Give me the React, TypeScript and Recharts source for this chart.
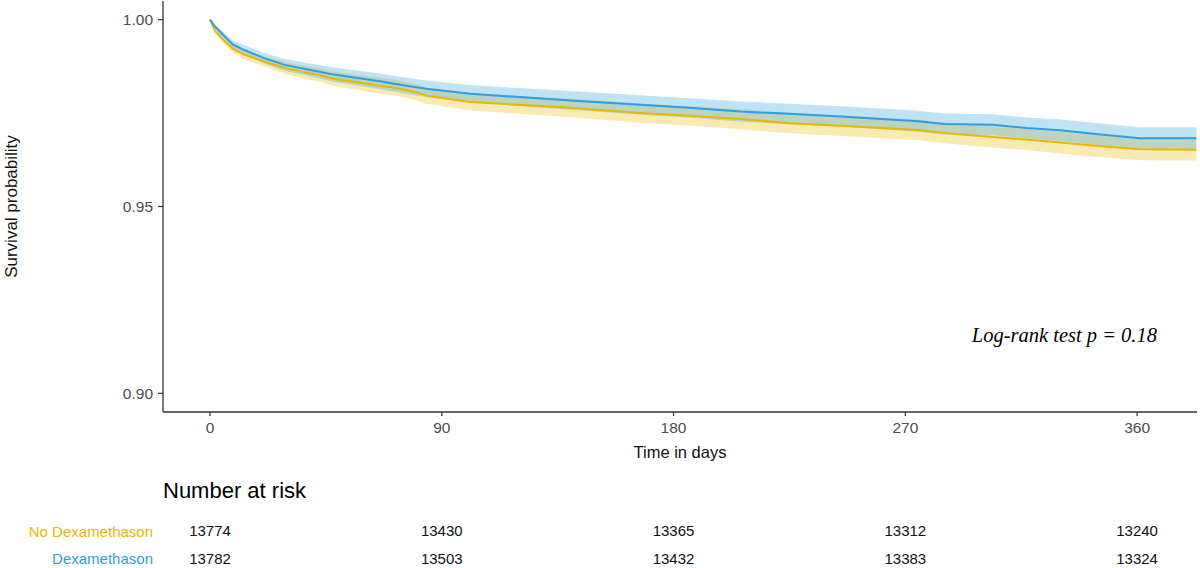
import React from 'react';
import {
  ComposedChart,
  ScatterChart,
  Area,
  Line,
  Scatter,
  XAxis,
  YAxis,
  LabelList,
  Label,
} from 'recharts';

// ---- Data ----
const days = [0, 2, 6, 9, 13, 21, 29, 37, 43, 48, 66, 72, 80, 84, 101, 120, 140, 167, 186, 206, 225, 245, 275, 285, 304, 317, 330, 343, 361, 383];

const dexSurv = [1.0, 0.9981, 0.9953, 0.9933, 0.992, 0.9897, 0.9879, 0.9868, 0.986, 0.9853, 0.9835, 0.9828, 0.9819, 0.9815, 0.9802, 0.9793, 0.9784, 0.9772, 0.9764, 0.9754, 0.9748, 0.9741, 0.9728, 0.9721, 0.9719, 0.971, 0.9704, 0.9695, 0.9683, 0.9683];
const dexLower = [1.0, 0.9976, 0.9944, 0.9922, 0.9908, 0.9883, 0.9863, 0.9851, 0.9842, 0.9834, 0.9814, 0.9807, 0.9797, 0.9793, 0.9779, 0.9769, 0.9759, 0.9746, 0.9738, 0.9727, 0.9721, 0.9714, 0.97, 0.9693, 0.9691, 0.9682, 0.9675, 0.9666, 0.9654, 0.9654];
const dexUpper = [1.0, 0.9986, 0.9962, 0.9944, 0.9932, 0.9911, 0.9895, 0.9885, 0.9878, 0.9872, 0.9856, 0.9849, 0.9841, 0.9837, 0.9825, 0.9817, 0.9809, 0.9798, 0.979, 0.9781, 0.9775, 0.9768, 0.9756, 0.9749, 0.9747, 0.9738, 0.9733, 0.9724, 0.9712, 0.9712];

const noDexSurv = [1.0, 0.9969, 0.994, 0.9922, 0.9907, 0.9888, 0.9871, 0.9859, 0.9851, 0.9842, 0.9823, 0.9818, 0.9806, 0.9797, 0.978, 0.9772, 0.9764, 0.975, 0.9743, 0.9734, 0.9723, 0.9716, 0.9705, 0.9697, 0.9686, 0.9679, 0.9671, 0.9663, 0.9653, 0.9652];
const noDexLower = [1.0, 0.9964, 0.9931, 0.9911, 0.9895, 0.9874, 0.9855, 0.9842, 0.9833, 0.9823, 0.9802, 0.9797, 0.9784, 0.9775, 0.9757, 0.9748, 0.9739, 0.9724, 0.9717, 0.9707, 0.9696, 0.9689, 0.9677, 0.9669, 0.9658, 0.9651, 0.9642, 0.9634, 0.9624, 0.9623];
const noDexUpper = [1.0, 0.9974, 0.9949, 0.9933, 0.9919, 0.9902, 0.9887, 0.9876, 0.9869, 0.9861, 0.9844, 0.9839, 0.9828, 0.9819, 0.9803, 0.9796, 0.9789, 0.9776, 0.9769, 0.9761, 0.975, 0.9743, 0.9733, 0.9725, 0.9714, 0.9707, 0.97, 0.9692, 0.9682, 0.9681];

const xTicks = [0, 90, 180, 270, 360];
const yTicks = [0.9, 0.95, 1.0];
const xDomain = [-18.25, 383.25];
const yDomain = [0.895, 1.005];

const groups = ['No Dexamethason', 'Dexamethason'];
const riskDays = [0, 90, 180, 270, 360];
const riskNoDex = [13774, 13430, 13365, 13312, 13240];
const riskDex = [13782, 13503, 13432, 13383, 13324];

const GOLD = '#E7B800';
const BLUE = '#2E9FDF';
const SANS = '"Liberation Sans", Arial, Helvetica, sans-serif';

const survData = days.map((d, i) => ({
  day: d,
  dex: dexSurv[i],
  noDex: noDexSurv[i],
  dexBand: [dexLower[i], dexUpper[i]],
  noDexBand: [noDexLower[i], noDexUpper[i]],
}));

const riskNoDexData = riskDays.map((d, i) => ({ day: d, group: groups[0], n: riskNoDex[i] }));
const riskDexData = riskDays.map((d, i) => ({ day: d, group: groups[1], n: riskDex[i] }));

const groupColor = (g: string) => (g === groups[0] ? GOLD : BLUE);

const RiskTick = (props: any) => {
  const { x, y, payload } = props;
  return (
    <text x={x} y={y} textAnchor="end" dominantBaseline="central" fontSize={15} fontFamily={SANS} fill={groupColor(payload.value)}>
      {payload.value}
    </text>
  );
};

const YTitle = (props: any) => {
  const vb = props.viewBox || { x: 0, y: 0, width: 0, height: 0 };
  const cx = vb.x + 11;
  const cy = vb.y + vb.height / 2;
  return (
    <text x={cx} y={cy} transform={`rotate(-90 ${cx} ${cy})`} textAnchor="middle" dominantBaseline="central" fontSize={17} fontFamily={SANS} fill="#111">
      Survival probability
    </text>
  );
};

export default function App() {
  return (
    <div style={{ position: 'absolute', left: 0, top: 0, width: 1200, height: 568, overflow: 'hidden', background: '#fff' }}>
      <div style={{ position: 'absolute', left: 0, top: 0 }}>
        <ComposedChart width={1200} height={470} data={survData} margin={{ top: 1, right: 3, bottom: 0, left: 0 }}>
          <XAxis
            dataKey="day"
            type="number"
            domain={xDomain}
            ticks={xTicks}
            allowDataOverflow
            height={58}
            tickSize={4}
            tickMargin={6}
            axisLine={{ stroke: '#333', strokeWidth: 1.3 }}
            tickLine={{ stroke: '#333', strokeWidth: 1.2 }}
            tick={{ fill: '#4D4D4D', fontSize: 15.5, fontFamily: SANS }}
          >
            <Label value="Time in days" position="insideBottom" offset={12} fontSize={16.5} fontFamily={SANS} fill="#111" />
          </XAxis>
          <YAxis
            type="number"
            domain={yDomain}
            ticks={yTicks}
            allowDataOverflow
            width={163}
            tickSize={5}
            tickMargin={5}
            tickFormatter={(v: number) => v.toFixed(2)}
            axisLine={{ stroke: '#333', strokeWidth: 1.3 }}
            tickLine={{ stroke: '#333', strokeWidth: 1.2 }}
            tick={{ fill: '#4D4D4D', fontSize: 15.5, fontFamily: SANS }}
          >
            <Label content={<YTitle />} />
          </YAxis>
          <Area dataKey="noDexBand" type="linear" stroke="none" fill={GOLD} fillOpacity={0.3} isAnimationActive={false} />
          <Area dataKey="dexBand" type="linear" stroke="none" fill={BLUE} fillOpacity={0.3} isAnimationActive={false} />
          <Line dataKey="noDex" type="linear" stroke={GOLD} strokeWidth={2} dot={false} isAnimationActive={false} />
          <Line dataKey="dex" type="linear" stroke={BLUE} strokeWidth={2} dot={false} isAnimationActive={false} />
        </ComposedChart>
      </div>

      <div style={{ position: 'absolute', left: 0, top: 470 }}>
        <ScatterChart width={1200} height={102} margin={{ top: 47.5, right: 3, bottom: 0, left: 0 }}>
          <XAxis dataKey="day" type="number" domain={xDomain} allowDataOverflow hide />
          <YAxis
            dataKey="group"
            type="category"
            domain={groups}
            allowDuplicatedCategory={false}
            reversed
            width={163}
            axisLine={false}
            tickLine={false}
            tickSize={0}
            tickMargin={10}
            tick={<RiskTick />}
          />
          <Scatter data={riskNoDexData} shape={() => <g />} isAnimationActive={false}>
            <LabelList dataKey="n" position="center" fontSize={15} fontFamily={SANS} fill="#111" />
          </Scatter>
          <Scatter data={riskDexData} shape={() => <g />} isAnimationActive={false}>
            <LabelList dataKey="n" position="center" fontSize={15} fontFamily={SANS} fill="#111" />
          </Scatter>
        </ScatterChart>
      </div>

      <svg width={1200} height={568} style={{ position: 'absolute', left: 0, top: 0, pointerEvents: 'none' }}>
        <text x={1157} y={342} textAnchor="end" fontSize={20.5} fontStyle="italic" fontFamily='"Liberation Serif", "Times New Roman", serif' fill="#000">
          Log-rank test p = 0.18
        </text>
        <text x={163} y={498} fontSize={22} fontFamily={SANS} fill="#000">
          Number at risk
        </text>
      </svg>
    </div>
  );
}
